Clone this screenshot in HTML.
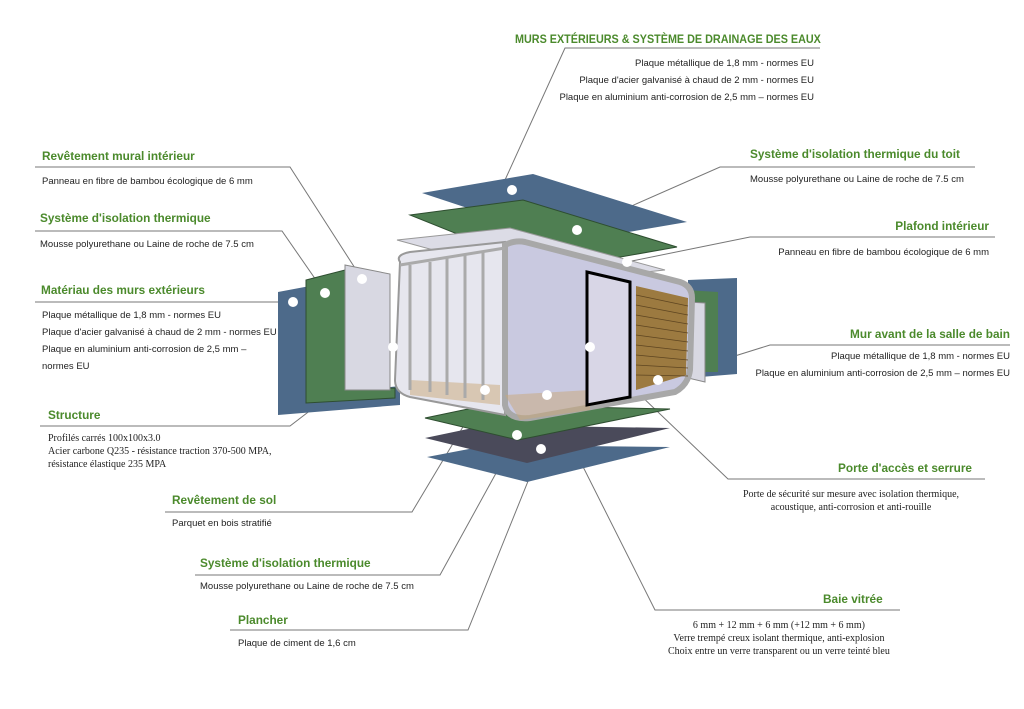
<!DOCTYPE html>
<html><head><meta charset="utf-8"><style>
body{margin:0;width:1024px;height:709px;background:#fff;position:relative;overflow:hidden;font-family:"Liberation Sans",sans-serif}
.t{position:absolute;color:#4b8a2c;font-weight:bold;font-size:11.8px;white-space:nowrap}
.b{position:absolute;color:#222;font-size:9.5px;line-height:17px;white-space:nowrap}
.s{font-family:"Liberation Serif",serif;font-size:10px;line-height:13px}
.r{text-align:right}
svg{position:absolute;left:0;top:0}
</style></head><body>
<svg width="1024" height="709" viewBox="0 0 1024 709">
<g fill="none" stroke="#777" stroke-width="1">
<polyline points="820,48 565,48 505,180"/>
<polyline points="35,167 290,167 362,279"/>
<polyline points="35,231 282,231 325,293"/>
<polyline points="35,302 293,302"/>
<polyline points="40,426 290,426 393,347"/>
<polyline points="165,512 412,512 485,390"/>
<polyline points="195,575 440,575 517,435"/>
<polyline points="230,630 468,630 541,449"/>
<polyline points="900,610 655,610 547,395"/>
<polyline points="985,479 728,479 590,347"/>
<polyline points="1010,345 770,345 658,380"/>
<polyline points="995,237 750,237 627,262"/>
<polyline points="975,167 720,167 577,230"/>
</g>
<polygon points="422,193 533,174 687,222 570,242" fill="#4d6a8a"/>
<polygon points="410,215 523,200 677,247 547,270" fill="#4f7f52" stroke="#2e4e30"/>
<polygon points="397,240 510,228 665,270 550,282" fill="#dcdce6" stroke="#999"/>
<polygon points="278,292 310,286 312,395 400,386 400,405 278,415" fill="#4d6a8a"/>
<polygon points="306,280 345,270 345,390 395,388 395,398 306,403" fill="#4f7f52" stroke="#2e4e30"/>
<polygon points="345,265 390,274 390,390 345,390" fill="#d8d8e2" stroke="#888"/>
<polygon points="688,280 737,278 737,374 688,378" fill="#4d6a8a"/>
<polygon points="685,290 718,292 718,372 685,372" fill="#4f7f52"/>
<polygon points="688,302 705,303 705,382 688,378" fill="#d8d8e2" stroke="#888"/>
<polygon points="427,457 490,445 670,447 527,482" fill="#4d6a8a"/>
<polygon points="425,438 487,425 670,428 527,463" fill="#4a4a5a"/>
<polygon points="425,418 487,405 670,409 518,440" fill="#4f7f52" stroke="#2e4e30"/>
<path d="M400,262 Q395,255 410,252 L505,242 L505,415 L410,397 Q395,393 395,380 Z" fill="#e6e6ee" stroke="#999" stroke-width="2"/>
<path d="M505,245 Q515,240 525,242 L680,282 Q692,286 692,298 L690,370 Q688,385 675,392 L530,418 Q508,420 505,405 Z" fill="#c9c9e0" stroke="#a8a8a8" stroke-width="6"/>
<polygon points="505,395 590,390 590,410 520,420" fill="#c9a877" opacity=".5"/>
<polygon points="410,380 500,385 500,405 410,395" fill="#c9a877" opacity=".5"/>
<polygon points="587,272 630,282 630,397 587,405" fill="#d8d6e6" stroke="#000" stroke-width="3"/>
<polygon points="636,286 688,298 686,375 636,390" fill="#9c7a40"/>
<g stroke="#5e4520" stroke-width=".8">
<line x1="636" y1="295" x2="688" y2="306"/><line x1="636" y1="305" x2="688" y2="315"/><line x1="636" y1="315" x2="688" y2="324"/><line x1="636" y1="325" x2="688" y2="333"/><line x1="636" y1="335" x2="688" y2="342"/><line x1="636" y1="345" x2="688" y2="351"/><line x1="636" y1="355" x2="688" y2="360"/><line x1="636" y1="365" x2="688" y2="368"/><line x1="636" y1="375" x2="688" y2="376"/>
</g>
<g stroke="#aaa" stroke-width="3" fill="none">
<line x1="410" y1="265" x2="410" y2="390"/><line x1="430" y1="262" x2="430" y2="392"/><line x1="447" y1="258" x2="447" y2="395"/><line x1="465" y1="255" x2="465" y2="398"/><line x1="483" y1="252" x2="483" y2="400"/>
<line x1="400" y1="265" x2="505" y2="248"/>
</g>
<g fill="#fff">
<circle cx="512" cy="190" r="5"/><circle cx="577" cy="230" r="5"/><circle cx="627" cy="262" r="5"/><circle cx="362" cy="279" r="5"/><circle cx="325" cy="293" r="5"/><circle cx="293" cy="302" r="5"/><circle cx="393" cy="347" r="5"/><circle cx="590" cy="347" r="5"/><circle cx="658" cy="380" r="5"/><circle cx="485" cy="390" r="5"/><circle cx="547" cy="395" r="5"/><circle cx="517" cy="435" r="5"/><circle cx="541" cy="449" r="5"/>
</g>
</svg>
<div class="t" style="left:515px;top:32px;transform:scaleX(0.915);transform-origin:0 0">MURS EXTÉRIEURS &amp; SYSTÈME DE DRAINAGE DES EAUX</div>
<div class="b r" style="right:210px;top:55px">Plaque métallique de 1,8 mm - normes EU<br>Plaque d'acier galvanisé à chaud de 2 mm - normes EU<br>Plaque en aluminium anti-corrosion de 2,5 mm – normes EU</div>
<div class="t" style="left:42px;top:149px">Revêtement mural intérieur</div>
<div class="b" style="left:42px;top:173px">Panneau en fibre de bambou écologique de 6 mm</div>
<div class="t" style="left:40px;top:211px">Système d'isolation thermique</div>
<div class="b" style="left:40px;top:236px">Mousse polyurethane ou Laine de roche de 7.5 cm</div>
<div class="t" style="left:41px;top:283px">Matériau des murs extérieurs</div>
<div class="b" style="left:42px;top:307px">Plaque métallique  de 1,8 mm - normes EU<br>Plaque d'acier galvanisé à chaud de 2 mm - normes EU<br><span style="line-height:12px">Plaque en aluminium anti-corrosion de 2,5 mm –<br>normes EU</span></div>
<div class="t" style="left:48px;top:408px">Structure</div>
<div class="b s" style="left:48px;top:432px">Profilés carrés 100x100x3.0<br>Acier carbone Q235 - résistance traction 370-500 MPA,<br>résistance élastique 235 MPA</div>
<div class="t" style="left:172px;top:493px">Revêtement de sol</div>
<div class="b" style="left:172px;top:515px">Parquet en bois stratifié</div>
<div class="t" style="left:200px;top:556px">Système d'isolation thermique</div>
<div class="b" style="left:200px;top:578px">Mousse polyurethane ou Laine de roche de 7.5 cm</div>
<div class="t" style="left:238px;top:613px">Plancher</div>
<div class="b" style="left:238px;top:635px">Plaque de ciment de 1,6 cm</div>
<div class="t" style="left:750px;top:147px">Système d'isolation thermique du toit</div>
<div class="b" style="left:750px;top:171px">Mousse polyurethane ou Laine de roche de 7.5 cm</div>
<div class="t r" style="right:35px;top:219px">Plafond intérieur</div>
<div class="b r" style="right:35px;top:244px">Panneau en fibre de bambou écologique de 6 mm</div>
<div class="t r" style="right:14px;top:327px">Mur avant de la salle de bain</div>
<div class="b r" style="right:14px;top:348px">Plaque métallique de 1,8 mm - normes EU<br>Plaque en aluminium anti-corrosion de 2,5 mm – normes EU</div>
<div class="t r" style="right:52px;top:461px">Porte d'accès et serrure</div>
<div class="b s" style="left:743px;top:488px;text-align:center">Porte de sécurité sur mesure avec isolation thermique,<br>acoustique, anti-corrosion et anti-rouille</div>
<div class="t" style="left:823px;top:592px">Baie vitrée</div>
<div class="b s" style="left:668px;top:619px;text-align:center">6 mm + 12 mm + 6 mm (+12 mm + 6 mm)<br>Verre trempé creux isolant thermique, anti-explosion<br>Choix  entre un verre transparent ou un verre teinté bleu</div>
</body></html>
